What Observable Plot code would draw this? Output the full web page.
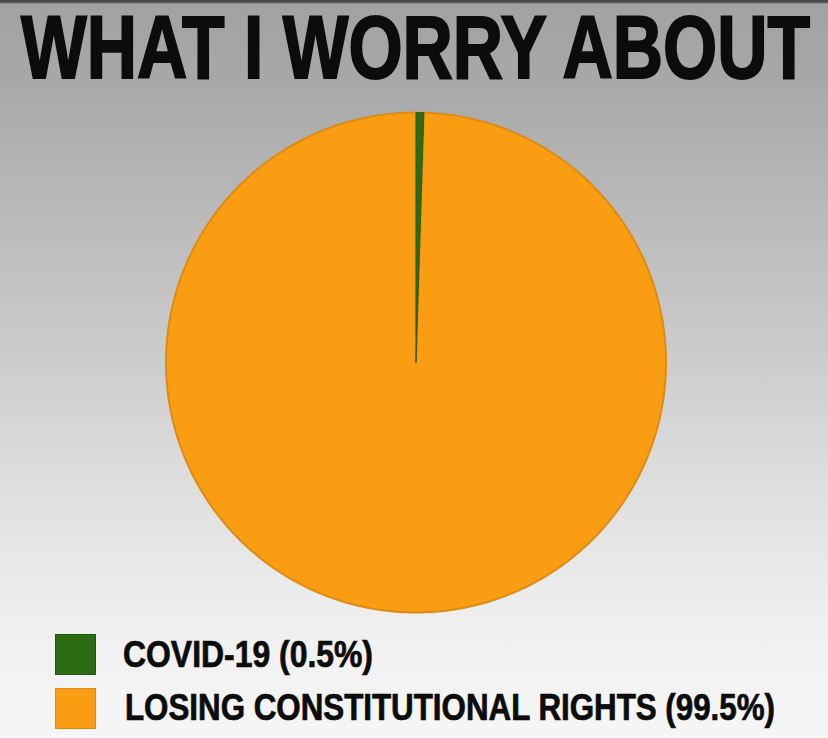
<!DOCTYPE html>
<html><head><meta charset="utf-8">
<script src="https://cdn.jsdelivr.net/npm/d3@7"></script>
<script src="https://cdn.jsdelivr.net/npm/@observablehq/plot@0.6"></script>
<style>
html,body{margin:0;padding:0;}
body{width:828px;height:738px;position:relative;
background:linear-gradient(to bottom,#4a4a4a 0px,#4a4a4a 2px,#a2a2a2 4px,#a8a8a8 80px,#b8b8b8 200px,#cbcbcb 350px,#e0e0e0 500px,#efefef 620px,#f6f6f6 738px);
font-family:"Liberation Sans Narrow","Liberation Sans",Arial,sans-serif;}
.fit{position:absolute;white-space:nowrap;font-weight:bold;transform-origin:0 0;color:#0c0c0c;}
.sw{position:absolute;box-sizing:border-box;width:41px;height:41px;}
</style></head><body>
<div id="title" class="fit"></div>
<div id="chart" style="position:absolute;left:0;top:100px;"></div>
<div id="legend"></div>
<script>
const title = "WHAT I WORRY ABOUT";
const categories = ["COVID-19", "LOSING CONSTITUTIONAL RIGHTS"];
const shares = [0.5, 99.5];
const fillColors = ["#2e6c14", "#fb9d12"];
const edgeColors = ["#26520f", "#dc8b14"];
const legendLabels = ["COVID-19 (0.5%)", "LOSING CONSTITUTIONAL RIGHTS (99.5%)"];

const rows = categories.map((c, i) => ({cat: c, share: shares[i]}));
const arcs = d3.pie().sort(null).value(d => d.share)(rows);
const step = Math.PI / 720;
const slicePoints = arcs.map(a => {
  const pts = [{cat: a.data.cat, x: 0, y: 0}];
  const n = Math.max(2, Math.ceil((a.endAngle - a.startAngle) / step));
  for (let k = 0; k <= n; k++) {
    const t = a.startAngle + (a.endAngle - a.startAngle) * k / n;
    pts.push({cat: a.data.cat, x: Math.sin(t), y: Math.cos(t)});
  }
  pts.push({cat: a.data.cat, x: 0, y: 0});
  return pts;
});

const chart = Plot.plot({
  width: 828,
  height: 530,
  marginLeft: 165.5,
  marginRight: 162.5,
  marginTop: 12,
  marginBottom: 18,
  x: {domain: [-1, 1], axis: null},
  y: {domain: [-1, 1], axis: null},
  style: {background: "transparent", overflow: "visible"},
  marks: [
    Plot.line(slicePoints[1], {x: "x", y: "y", fill: fillColors[1], stroke: edgeColors[1], strokeWidth: 2, strokeLinejoin: "round"}),
    Plot.line(slicePoints[0], {x: "x", y: "y", fill: fillColors[0], stroke: edgeColors[0], strokeWidth: 0.8})
  ]
});
document.getElementById("chart").appendChild(chart);

// Each text: [element, left, baseline, target width, target cap height, base size, stroke]
const texts = [];
const t = document.getElementById("title");
t.textContent = title;
texts.push([t, 21, 78, 789, 64, 44, 1.0]);

const leg = document.getElementById("legend");
const swTops = [634, 688];
const baselines = [667, 720];
const lefts = [123, 125];
const widths = [250, 650];
legendLabels.forEach((lab, i) => {
  const sw = document.createElement("div");
  sw.className = "sw";
  sw.style.left = "55px";
  sw.style.top = swTops[i] + "px";
  sw.style.background = fillColors[i];
  sw.style.border = "1px solid " + edgeColors[i];
  leg.appendChild(sw);
  const tx = document.createElement("div");
  tx.className = "fit";
  tx.textContent = lab;
  leg.appendChild(tx);
  texts.push([tx, lefts[i], baselines[i], widths[i], 26, 30, 0.6]);
});

const LH = 0.8;
function fit() {
  texts.forEach(([el, left, base, w, cap, fs, sw]) => {
    el.style.transform = "none";
    el.style.lineHeight = LH;
    el.style.fontSize = fs + "px";
    el.style.webkitTextStroke = sw + "px #0c0c0c";
    const cur = el.getBoundingClientRect().width;
    const sx = w / cur;
    const sy = cap / (0.716 * fs);
    const b = ((LH - 1.117) / 2 + 0.905) * fs;  // baseline offset within the line box
    el.style.left = left + "px";
    el.style.top = (base - b) + "px";
    el.style.transformOrigin = "0 " + b + "px";
    el.style.transform = "scale(" + sx + "," + sy + ")";
  });
}
fit();
if (document.fonts) document.fonts.ready.then(fit);
</script>
</body></html>
